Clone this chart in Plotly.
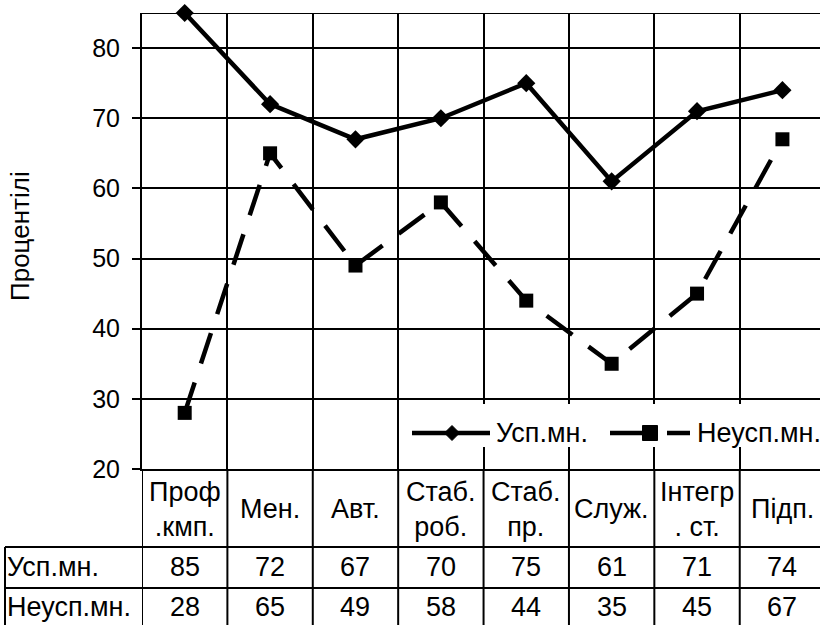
import plotly.graph_objects as go

# ---- data ----
categories = ["Проф<br>.кмп.", "Мен.", "Авт.", "Стаб.<br>роб.", "Стаб.<br>пр.",
              "Служ.", "Інтегр<br>. ст.", "Підп."]
series_names = ["Усп.мн.", "Неусп.мн."]
usp_values = [85, 72, 67, 70, 75, 61, 71, 74]
neusp_values = [28, 65, 49, 58, 44, 35, 45, 67]
y_tick_values = [20, 30, 40, 50, 60, 70, 80]
y_title = "Процентілі"

# ---- layout geometry (pixels) ----
W, H = 820, 625
PL, PT, PW, PH = 142, 13, 678, 456
FONT = "Arial, Liberation Sans, sans-serif"
FS = 27
LW = 2


def py(y):
    return (PT + PH - y) / PH


def px(x):
    return (x - PL) / PW


fig = go.Figure()
fig.add_trace(go.Scatter(
    x=categories, y=usp_values, name=series_names[0], mode="lines+markers",
    line=dict(color="black", width=4.5),
    marker=dict(symbol="diamond", size=14, color="black"),
    cliponaxis=False, showlegend=False))
fig.add_trace(go.Scatter(
    x=categories, y=neusp_values, name=series_names[1], mode="lines+markers",
    line=dict(color="black", width=4.5, dash="32px,20px"),
    marker=dict(symbol="square", size=14, color="black"),
    cliponaxis=False, showlegend=False))

shapes = []
# top border of plot area
shapes.append(dict(type="line", xref="paper", yref="y", x0=0, x1=1, y0=85, y1=85,
                   line=dict(color="black", width=LW)))
# data table: vertical separators continuing category boundaries
n = len(categories)
for i in range(n):
    shapes.append(dict(type="line", xref="x", yref="paper", x0=i - 0.5, x1=i - 0.5,
                       y0=py(469), y1=py(630), line=dict(color="black", width=LW)))
# data table: horizontal rules
for yy in (547, 588):
    shapes.append(dict(type="line", xref="paper", yref="paper", x0=px(5), x1=1,
                       y0=py(yy), y1=py(yy), line=dict(color="black", width=LW)))
shapes.append(dict(type="line", xref="paper", yref="paper", x0=px(5), x1=px(5),
                   y0=py(547), y1=py(630), line=dict(color="black", width=LW)))

# legend box (white background hiding gridlines)
LY = 433
shapes.append(dict(type="rect", xref="paper", yref="paper", x0=px(401), x1=1,
                   y0=py(447), y1=py(404), fillcolor="white", line=dict(width=0),
                   layer="above"))
# legend sample 1: solid line + diamond
shapes.append(dict(type="line", xref="paper", yref="paper", x0=px(412), x1=px(490),
                   y0=py(LY), y1=py(LY), line=dict(color="black", width=4.5), layer="above"))
d = 7.5
shapes.append(dict(type="path", xref="paper", yref="paper",
                   path=f"M {px(452 - d)},{py(LY)} L {px(452)},{py(LY - d)} "
                        f"L {px(452 + d)},{py(LY)} L {px(452)},{py(LY + d)} Z",
                   fillcolor="black", line=dict(color="black", width=1), layer="above"))
# legend sample 2: dashed line + square
shapes.append(dict(type="line", xref="paper", yref="paper", x0=px(610), x1=px(650),
                   y0=py(LY), y1=py(LY), line=dict(color="black", width=4.5), layer="above"))
shapes.append(dict(type="line", xref="paper", yref="paper", x0=px(667), x1=px(690),
                   y0=py(LY), y1=py(LY), line=dict(color="black", width=4.5), layer="above"))
s = 7.5
shapes.append(dict(type="rect", xref="paper", yref="paper", x0=px(650 - s), x1=px(650 + s),
                   y0=py(LY + s), y1=py(LY - s), fillcolor="black",
                   line=dict(color="black", width=1), layer="above"))

annotations = []
# legend texts
annotations.append(dict(xref="paper", yref="paper", x=px(494), y=py(LY), text=series_names[0],
                        showarrow=False, xanchor="left", yanchor="middle",
                        font=dict(family=FONT, size=FS, color="black")))
annotations.append(dict(xref="paper", yref="paper", x=px(695), y=py(LY), text=series_names[1],
                        showarrow=False, xanchor="left", yanchor="middle",
                        font=dict(family=FONT, size=FS, color="black")))
# category header row
for c in categories:
    annotations.append(dict(xref="x", yref="paper", x=c, y=py(509), text=c, showarrow=False,
                            xanchor="center", yanchor="middle",
                            font=dict(family=FONT, size=FS, color="black")))
# data rows
for row_y, name, vals in ((567, series_names[0], usp_values), (607, series_names[1], neusp_values)):
    annotations.append(dict(xref="paper", yref="paper", x=px(5), y=py(row_y), text=name,
                            showarrow=False, xanchor="left", yanchor="middle",
                            font=dict(family=FONT, size=FS, color="black")))
    for c, v in zip(categories, vals):
        annotations.append(dict(xref="x", yref="paper", x=c, y=py(row_y), text=str(v),
                                showarrow=False, xanchor="center", yanchor="middle",
                                font=dict(family=FONT, size=FS, color="black")))
# y-axis title
annotations.append(dict(xref="paper", yref="paper", x=px(20), y=py(236), text=y_title,
                        textangle=-90, showarrow=False, xanchor="center", yanchor="middle",
                        font=dict(family=FONT, size=26, color="black")))

fig.update_layout(
    width=W, height=H,
    margin=dict(l=PL, r=W - PL - PW, t=PT, b=H - PT - PH, pad=0),
    paper_bgcolor="white", plot_bgcolor="white",
    font=dict(family=FONT, size=FS, color="black"),
    shapes=shapes, annotations=annotations,
    xaxis=dict(type="category", range=[-0.5, 7.44], tickson="boundaries",
               showgrid=True, gridcolor="black", gridwidth=LW,
               showticklabels=False, ticks="", showline=True, linecolor="black",
               linewidth=LW, zeroline=False),
    yaxis=dict(range=[20, 85], tickvals=y_tick_values, showgrid=True, gridcolor="black",
               gridwidth=LW, ticks="outside", ticklen=8, tickwidth=LW, tickcolor="black",
               showline=True, linecolor="black", linewidth=LW, zeroline=False,
               tickfont=dict(family=FONT, size=25, color="black"), ticklabelstandoff=7),
    showlegend=False,
)

fig.write_html("out.html", config={"displayModeBar": False},
               post_script="document.body.style.margin='0';document.body.style.overflow='hidden';")
